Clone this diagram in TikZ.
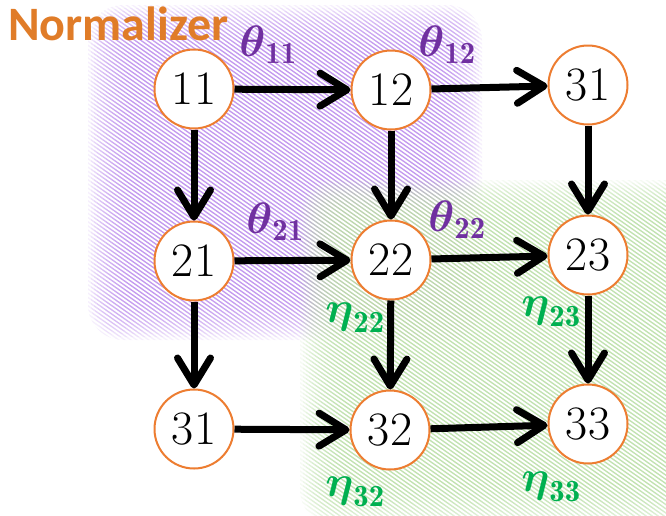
\RequirePackage{fix-cm}
\documentclass[tikz,border=0pt]{standalone}
\usepackage{amsmath}
\usepackage{fontspec}
\newfontfamily\labfont{Carlito}
\usetikzlibrary{arrows.meta}
\definecolor{nodeorange}{RGB}{237,125,49}
\definecolor{titleorange}{RGB}{224,124,40}
\definecolor{thetapurple}{RGB}{112,48,160}
\definecolor{etagreen}{RGB}{0,176,80}
\definecolor{bgpurple}{RGB}{190,145,238}
\definecolor{bggreen}{RGB}{188,224,170}
\tikzset{
  vnode/.style={circle, draw=nodeorange, line width=2pt, fill=white, minimum size=79pt, inner sep=0pt, font=\fontsize{48}{48}\selectfont},
  conn/.style={line width=7pt, -{Straight Barb[round,length=27pt,width=33pt]}},
  thlab/.style={text=thetapurple, inner sep=0pt, font=\fontsize{44}{44}\selectfont},
  etlab/.style={text=etagreen, inner sep=0pt, font=\fontsize{44}{44}\selectfont},
}
\begin{document}
\begin{tikzpicture}[x=1pt,y=-1pt]
\useasboundingbox (0,0) rectangle (666,515);
% soft purple region
\foreach \k in {0,...,15}{
  \pgfmathsetmacro{\t}{\k/15}
  \fill[bgpurple, opacity=0.15, rounded corners={35-30*\t}]
    ({88+\t*45},{5+\t*45}) rectangle ({482-\t*45},{340-\t*45});
}
% soft green region
\foreach \k in {0,...,15}{
  \pgfmathsetmacro{\t}{\k/15}
  \fill[bggreen, opacity=0.15, rounded corners={35-30*\t}]
    ({300+\t*45},{180+\t*40}) rectangle (720,{525-\t*40});
}
% white hatching
\begin{scope}
\clip (0,0) rectangle (666,515);
\foreach \i in {-130,...,112}{
  \draw[white, line width=1.8pt] ({\i*6},-10) -- ({\i*6+764},525);
}
\end{scope}
% nodes
\node[vnode] (n11) at (194,89) {11};
\node[vnode] (n12) at (391,90) {12};
\node[vnode] (n13) at (588,85) {31};
\node[vnode] (n21) at (194,261) {21};
\node[vnode] (n22) at (391,260) {22};
\node[vnode] (n23) at (588,255) {23};
\node[vnode] (n31) at (194,429) {31};
\node[vnode] (n32) at (390,430) {32};
\node[vnode] (n33) at (588,424) {33};
% connectors
\draw[conn] (n11) -- (n12);
\draw[conn] (n12) -- (n13);
\draw[conn] (n11) -- (n21);
\draw[conn] (n12) -- (n22);
\draw[conn] (n13) -- (n23);
\draw[conn] (n21) -- (n22);
\draw[conn] (n22) -- (n23);
\draw[conn] (n21) -- (n31);
\draw[conn] (n22) -- (n32);
\draw[conn] (n23) -- (n33);
\draw[conn] (n31) -- (n32);
\draw[conn] (n32) -- (n33);
% labels
\node[anchor=base west, text=titleorange, inner sep=0pt, font=\labfont\bfseries\fontsize{48}{48}\selectfont] (title) at (8,40) {Normalizer};
\node[thlab] (t11) at (268,45) {$\boldsymbol{\theta}_{\mathbf{11}}$};
\node[thlab] (t12) at (447,45) {$\boldsymbol{\theta}_{\mathbf{12}}$};
\node[thlab] (t21) at (275,222) {$\boldsymbol{\theta}_{\mathbf{21}}$};
\node[thlab] (t22) at (457,220) {$\boldsymbol{\theta}_{\mathbf{22}}$};
\node[etlab] (e22) at (355,318) {$\boldsymbol{\eta}_{\mathbf{22}}$};
\node[etlab] (e23) at (551,312) {$\boldsymbol{\eta}_{\mathbf{23}}$};
\node[etlab] (e32) at (355,492) {$\boldsymbol{\eta}_{\mathbf{32}}$};
\node[etlab] (e33) at (551,487) {$\boldsymbol{\eta}_{\mathbf{33}}$};
\end{tikzpicture}
\end{document}
